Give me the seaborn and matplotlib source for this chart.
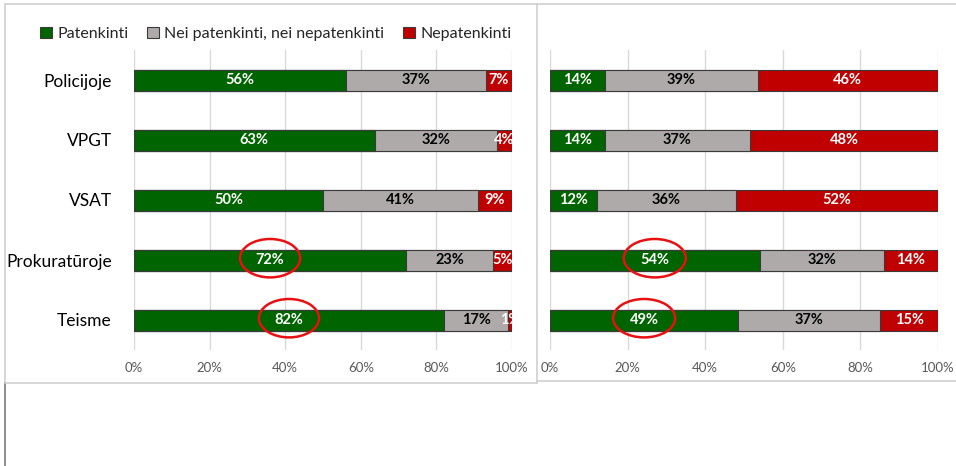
import matplotlib.pyplot as plt
import numpy as np
import pandas as pd
import seaborn as sns
from matplotlib.lines import Line2D
from matplotlib.patches import Ellipse, Patch

CATEGORIES = ["Policijoje", "VPGT", "VSAT", "Prokuratūroje", "Teisme"]
SERIES = ["Patenkinti", "Nei patenkinti, nei nepatenkinti", "Nepatenkinti"]

LEFT_PATENKINTI = [56, 63, 50, 72, 82]
LEFT_NEUTRAL = [37, 32, 41, 23, 17]
LEFT_NEPATENKINTI = [7, 4, 9, 5, 1]

RIGHT_PATENKINTI = [14, 14, 12, 54, 49]
RIGHT_NEUTRAL = [39, 37, 36, 32, 37]
RIGHT_NEPATENKINTI = [46, 48, 52, 14, 15]

CIRCLED = ["Prokuratūroje", "Teisme"]
X_TICKS = [0, 20, 40, 60, 80, 100]

COLORS = ["#006400", "#AEAAAA", "#C00000"]
TEXT_COLORS = ["white", "black", "white"]
W, H = 956, 466


def px_rect(x0, y0, x1, y1):
    return [x0 / W, 1 - y1 / H, (x1 - x0) / W, (y1 - y0) / H]


def draw_panel(ax, series_values, ellipse_w):
    vals = np.array(series_values, dtype=float)
    shares = vals / vals.sum(axis=0) * 100  # 100% stacked, like Excel
    cum = np.cumsum(shares, axis=0)

    for i in reversed(range(len(SERIES))):
        df = pd.DataFrame({"category": CATEGORIES, "value": cum[i]})
        sns.barplot(
            data=df, x="value", y="category", orient="h", color=COLORS[i],
            saturation=1, width=0.35, edgecolor="#3a3a3a", linewidth=0.8,
            errorbar=None, ax=ax,
        )

    for i in range(len(SERIES)):
        for j, cat in enumerate(CATEGORIES):
            center = cum[i, j] - shares[i, j] / 2
            ax.text(center, j, f"{vals[i, j]:.0f}%", ha="center", va="center",
                    color=TEXT_COLORS[i], fontsize=10.5, fontweight="bold")
            if i == 0 and cat in CIRCLED:
                ax.add_patch(Ellipse((center, j - 0.03), ellipse_w, 0.64, fill=False,
                                     edgecolor="#E81010", linewidth=1.8, clip_on=False,
                                     zorder=5))

    ax.set_xlim(0, 100)
    ax.set_ylim(4.5, -0.5)
    ax.set_xticks(X_TICKS)
    ax.set_xticklabels([f"{t}%" for t in X_TICKS])
    ax.set_xlabel("")
    ax.set_ylabel("")
    ax.grid(axis="x", color="#D9D9D9", linewidth=1)
    ax.grid(axis="y", visible=False)
    ax.set_axisbelow(True)
    ax.tick_params(axis="x", length=0, pad=9, labelsize=9.5, labelcolor="#595959")
    ax.tick_params(axis="y", length=0)
    sns.despine(ax=ax, left=True, bottom=True)


sns.set_style("white")
plt.rcParams["font.family"] = ["Lato", "DejaVu Sans"]

fig = plt.figure(figsize=(W / 100, H / 100), dpi=100)

ax_left = fig.add_axes(px_rect(134, 50, 512, 350))
draw_panel(ax_left, [LEFT_PATENKINTI, LEFT_NEUTRAL, LEFT_NEPATENKINTI], 15.9)
ax_left.tick_params(axis="y", labelsize=12.5, pad=16, labelcolor="black")

ax_right = fig.add_axes(px_rect(550, 50, 938, 350))
draw_panel(ax_right, [RIGHT_PATENKINTI, RIGHT_NEUTRAL, RIGHT_NEPATENKINTI], 16.0)
ax_right.tick_params(axis="y", labelleft=False)

handles = [Patch(facecolor=c, edgecolor="#3a3a3a", linewidth=0.8) for c in COLORS]
fig.legend(handles, SERIES, loc="center left", bbox_to_anchor=(34 / W, 1 - 34 / H),
           ncol=3, frameon=False, fontsize=11.5, handlelength=0.7, handleheight=0.7,
           handletextpad=0.35, columnspacing=1.2, borderaxespad=0)

# screenshot frame lines around the two chart objects
frame = [
    ((5, 956), (4, 4), "#D0D0D0"),
    ((5, 5), (4, 383), "#D0D0D0"),
    ((5, 5), (383, 466), "#7a7a7a"),
    ((537, 537), (4, 383), "#D0D0D0"),
    ((5, 537), (383, 383), "#D0D0D0"),
    ((537, 956), (381, 381), "#D0D0D0"),
]
for xs, ys, c in frame:
    fig.add_artist(Line2D([x / W for x in xs], [1 - y / H for y in ys], color=c, linewidth=1.2))

fig.savefig("out.png", dpi=100)
plt.close(fig)
